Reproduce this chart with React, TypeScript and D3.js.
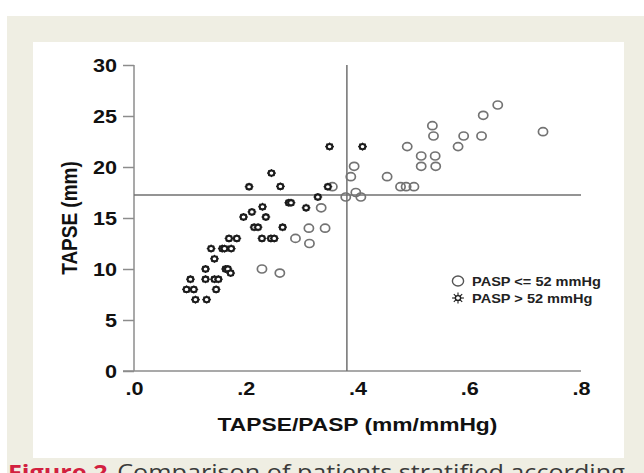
import React, { useEffect, useRef } from "react";
import * as d3 from "d3";

// PASP > 52 mmHg (star markers)
const highX = [0.206, 0.246, 0.262, 0.277, 0.230, 0.211, 0.196, 0.236, 0.215, 0.222, 0.266, 0.229, 0.245, 0.251, 0.170, 0.184, 0.138, 0.158, 0.162, 0.174, 0.144, 0.128, 0.164, 0.168, 0.173, 0.101, 0.128, 0.144, 0.151, 0.094, 0.107, 0.147, 0.110, 0.130, 0.347, 0.329, 0.281, 0.308, 0.350, 0.409];
const highY = [18.07, 19.4, 18.1, 16.5, 16.1, 15.6, 15.1, 15.1, 14.1, 14.1, 14.1, 13.0, 13.0, 13.0, 13.0, 13.0, 12.0, 12.0, 12.0, 12.0, 11.0, 10.0, 10.0, 10.0, 9.6, 9.0, 9.0, 9.0, 9.0, 8.0, 8.0, 8.0, 7.0, 7.0, 18.07, 17.06, 16.5, 16.0, 22.0, 22.0];

// PASP <= 52 mmHg (open circles)
const lowX = [0.229, 0.261, 0.355, 0.335, 0.313, 0.342, 0.289, 0.314, 0.379, 0.397, 0.406, 0.388, 0.394, 0.453, 0.477, 0.487, 0.501, 0.514, 0.539, 0.514, 0.540, 0.489, 0.534, 0.536, 0.580, 0.590, 0.622, 0.625, 0.651, 0.732];
const lowY = [10.0, 9.6, 18.07, 16.0, 14.0, 14.0, 13.0, 12.5, 17.06, 17.5, 17.06, 19.05, 20.07, 19.05, 18.07, 18.07, 18.07, 21.08, 21.08, 20.07, 20.07, 22.0, 24.05, 23.04, 22.0, 23.04, 23.04, 25.07, 26.08, 23.46];

const xTicks = [0, 0.2, 0.4, 0.6, 0.8];
const xTickLabels = [".0", ".2", ".4", ".6", ".8"];
const yTicks = [0, 5, 10, 15, 20, 25, 30];

const cutX = 0.381;
const cutY = 17.25;

const legendLabels = ["PASP <= 52 mmHg", "PASP > 52 mmHg"];

const FONT = "'Liberation Sans', Arial, sans-serif";
// the original figure is stretched horizontally
const SX = 1.2;

function drawStar(g: any, cx: number, cy: number, r: number, spike: number, sw: number) {
  g.append("ellipse")
    .attr("cx", cx)
    .attr("cy", cy)
    .attr("rx", r * 1.1)
    .attr("ry", r)
    .attr("fill", "#fff")
    .attr("stroke", "#1c1c1c")
    .attr("stroke-width", sw);
  for (let i = 0; i < 8; i++) {
    const a = (i * Math.PI) / 4;
    g.append("line")
      .attr("x1", cx + Math.cos(a) * r * 1.1)
      .attr("y1", cy + Math.sin(a) * r)
      .attr("x2", cx + Math.cos(a) * spike * 1.1)
      .attr("y2", cy + Math.sin(a) * spike)
      .attr("stroke", "#1c1c1c")
      .attr("stroke-width", 1.1);
  }
}

export default function App() {
  const ref = useRef<SVGSVGElement | null>(null);
  const width = 644;
  const height = 473;

  useEffect(() => {
    const svg = d3.select(ref.current).attr("width", width).attr("height", height);
    svg.selectAll("*").remove();

    // page background + panel
    svg.append("rect").attr("width", width).attr("height", height).attr("fill", "#fff");
    svg.append("rect").attr("x", 7).attr("y", 16).attr("width", width - 7).attr("height", height - 16).attr("fill", "#efeee3");
    svg.append("rect").attr("x", 33).attr("y", 42).attr("width", 591).attr("height", 416).attr("fill", "#fff");

    const x = d3.scaleLinear().domain([0, 0.8]).range([134, 581]);
    const y = d3.scaleLinear().domain([0, 30]).range([371, 65]);

    // y axis
    const yAxis = svg
      .append("g")
      .attr("transform", `translate(${x(0)},0)`)
      .call(d3.axisLeft(y).tickValues(yTicks).tickSize(11).tickPadding(6).tickFormat(d3.format("d")));
    yAxis.select(".domain").attr("stroke", "#8c8c8c").attr("stroke-width", 1.5).attr("d", `M0,${y(30)}V${y(0)}`);
    yAxis.selectAll("line").attr("stroke", "#8c8c8c").attr("stroke-width", 1.5);
    yAxis.selectAll("text")
      .attr("fill", "#111")
      .attr("font-family", FONT)
      .attr("font-size", 18)
      .attr("font-weight", 700)
      .attr("dy", "0.36em")
      .attr("x", -17 / SX)
      .attr("transform", `scale(${SX},1)`);

    // x axis (no tick marks)
    const xAxis = svg
      .append("g")
      .attr("transform", `translate(0,${y(0)})`)
      .call(
        d3.axisBottom(x)
          .tickValues(xTicks)
          .tickSize(0)
          .tickPadding(11)
          .tickFormat((d, i) => xTickLabels[i])
      );
    xAxis.select(".domain").attr("stroke", "#8c8c8c").attr("stroke-width", 1.5).attr("d", `M${x(0) - 11},0H${x(0.8)}`);
    xAxis.selectAll("text")
      .attr("fill", "#111")
      .attr("font-family", FONT)
      .attr("font-size", 18)
      .attr("font-weight", 700)
      .attr("transform", `scale(${SX},1)`);

    // reference lines
    svg.append("line")
      .attr("x1", x(cutX)).attr("x2", x(cutX))
      .attr("y1", y(0)).attr("y2", y(30))
      .attr("stroke", "#707070").attr("stroke-width", 1.5);
    svg.append("line")
      .attr("x1", x(0)).attr("x2", x(0.8))
      .attr("y1", y(cutY)).attr("y2", y(cutY))
      .attr("stroke", "#707070").attr("stroke-width", 1.5);

    // open circles
    svg.append("g")
      .selectAll("ellipse")
      .data(lowX.map((v, i) => [v, lowY[i]]))
      .join("ellipse")
      .attr("cx", (d) => x(d[0]))
      .attr("cy", (d) => y(d[1]))
      .attr("rx", 4.6)
      .attr("ry", 4)
      .attr("fill", "none")
      .attr("stroke", "#737373")
      .attr("stroke-width", 1.7);

    // star markers
    const stars = svg.append("g");
    highX.forEach((v, i) => drawStar(stars, x(v), y(highY[i]), 2.6, 4.0, 2.1));

    // legend
    const lg = svg.append("g");
    lg.append("ellipse")
      .attr("cx", 458).attr("cy", 281).attr("rx", 5.6).attr("ry", 5)
      .attr("fill", "none").attr("stroke", "#555").attr("stroke-width", 1.4);
    drawStar(lg, 458, 298, 2.4, 5.4, 1.4);
    legendLabels.forEach((t, i) => {
      lg.append("text")
        .attr("transform", `translate(472,${286 + i * 17}) scale(1.12,1)`)
        .attr("font-family", FONT)
        .attr("font-size", 13)
        .attr("font-weight", 700)
        .attr("fill", "#222")
        .text(t);
    });

    // axis titles
    svg.append("text")
      .attr("transform", `translate(${(x(0) + x(0.8)) / 2},431) scale(${SX},1)`)
      .attr("text-anchor", "middle")
      .attr("font-family", FONT)
      .attr("font-size", 19)
      .attr("font-weight", 700)
      .attr("fill", "#111")
      .text("TAPSE/PASP (mm/mmHg)");
    svg.append("text")
      .attr("transform", `translate(77, ${(y(0) + y(30)) / 2}) scale(${SX},1) rotate(-90)`)
      .attr("text-anchor", "middle")
      .attr("font-family", FONT)
      .attr("font-size", 19)
      .attr("font-weight", 700)
      .attr("fill", "#111")
      .text("TAPSE (mm)");

    // caption (cut off by the frame)
    const cap = svg.append("text")
      .attr("transform", `translate(8,480) scale(${SX},1)`)
      .attr("font-family", "'Open Sans', Arial, sans-serif")
      .attr("font-size", 21);
    cap.append("tspan").attr("fill", "#d2203f").attr("font-weight", 700).text("Figure 2");
    cap.append("tspan").attr("fill", "#3a3a3a").attr("dx", 8).text("Comparison of patients stratified according");
  }, []);

  return <svg ref={ref} style={{ position: "absolute", left: 0, top: 0, display: "block" }} />;
}
